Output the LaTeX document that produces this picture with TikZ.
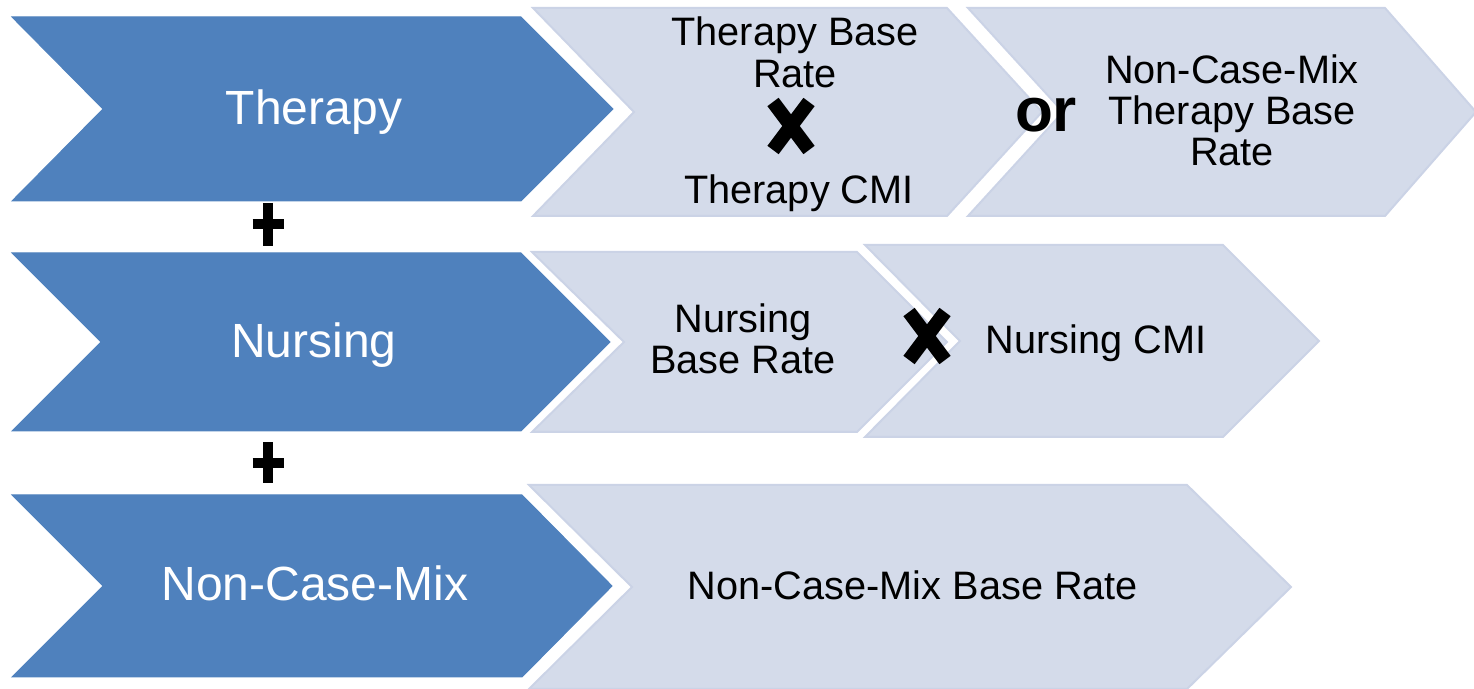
\documentclass[tikz,border=0pt]{standalone}
\usepackage{fontspec}
\setmainfont{Liberation Sans}
\definecolor{chevdark}{HTML}{4F81BD}
\definecolor{chevlight}{HTML}{D4DBEA}
\definecolor{chevedge}{HTML}{CBD3E6}
\tikzset{
	darkchev/.style={fill=chevdark, draw=chevdark, line width=0.5pt},
	lightchev/.style={fill=chevlight, draw=chevedge, line width=1pt},
	lbl/.style={inner sep=0pt, align=center, text=white, font=\fontsize{24}{28}\selectfont},
	rate/.style={inner sep=0pt, align=center, text=black, font=\fontsize{19.85}{20.6}\selectfont},
	timesmark/.style={line width=7pt},
	plusmark/.style={line width=5pt},
}
\begin{document}
\begin{tikzpicture}[x=0.5pt, y=-0.5pt]
			\useasboundingbox (0,0) rectangle (1474,689);
			% left column
			\filldraw[darkchev] (12,17) -- (521,17) -- (613,109) -- (521,201) -- (12,201) -- (103,109) -- cycle;
			\filldraw[darkchev] (12,253) -- (521,253) -- (610,342) -- (521,431) -- (12,431) -- (101,342) -- cycle;
			\filldraw[darkchev] (12,495) -- (522,495) -- (612,586) -- (522,677) -- (12,677) -- (103,586) -- cycle;
			% right hand chevrons
			\filldraw[lightchev] (533,8) -- (947,8) -- (1042,112) -- (947,216) -- (533,216) -- (634,112) -- cycle;
			\filldraw[lightchev] (968,8) -- (1385,8) -- (1476,112) -- (1385,216) -- (968,216) -- (1063,112) -- cycle;
			\filldraw[lightchev] (532,252) -- (857,252) -- (947,342) -- (857,432) -- (532,432) -- (624,342) -- cycle;
			\filldraw[lightchev] (865,245) -- (1223,245) -- (1319,341) -- (1223,437) -- (865,437) -- (960,341) -- cycle;
			\filldraw[lightchev] (529,485) -- (1187,485) -- (1291,587) -- (1187,689) -- (529,689) -- (632,587) -- cycle;
			\node[lbl] (therapy) at (314,111.8) {Therapy};
			\node[lbl] (nursing) at (314,345) {Nursing};
			\node[lbl] (noncasemix) at (315,583.8) {Non-Case-Mix};
			\node[rate] (thbase) at (795,52.3) {Therapy Base\\Rate};
			\node[rate] (thcmi) at (799,193) {Therapy CMI};
			\node[inner sep=0pt, font=\bfseries\fontsize{31}{31}\selectfont] (or) at (1046,115.5) {or};
			\node[rate] (ncmthbase) at (1232,110.3) {Non-Case-Mix\\Therapy Base\\Rate};
			\node[rate] (nubase) at (743,338.8) {Nursing\\Base Rate};
			\node[rate] (nucmi) at (1096,342.9) {Nursing CMI};
			\node[rate] (ncmbase) at (913,585.8) {Non-Case-Mix Base Rate};
			% multiply and add signs
			\coordinate (thx) at (791,126);
			\coordinate (nux) at (927,336);
			\draw[timesmark] (thx) ++(-18,-24) -- ++(36,48) (thx) ++(18,-24) -- ++(-36,48);
			\draw[timesmark] (nux) ++(-18,-24) -- ++(36,48) (nux) ++(18,-24) -- ++(-36,48);
			\coordinate (plusa) at (268,224.5);
			\coordinate (plusb) at (268,463);
			\draw[plusmark] (plusa) ++(0,-21.5) -- ++(0,43) (plusa) ++(-15.5,0) -- ++(31,0);
			\draw[plusmark] (plusb) ++(0,-20.5) -- ++(0,41) (plusb) ++(-15.5,0) -- ++(31,0);
		\end{tikzpicture}
\end{document}
